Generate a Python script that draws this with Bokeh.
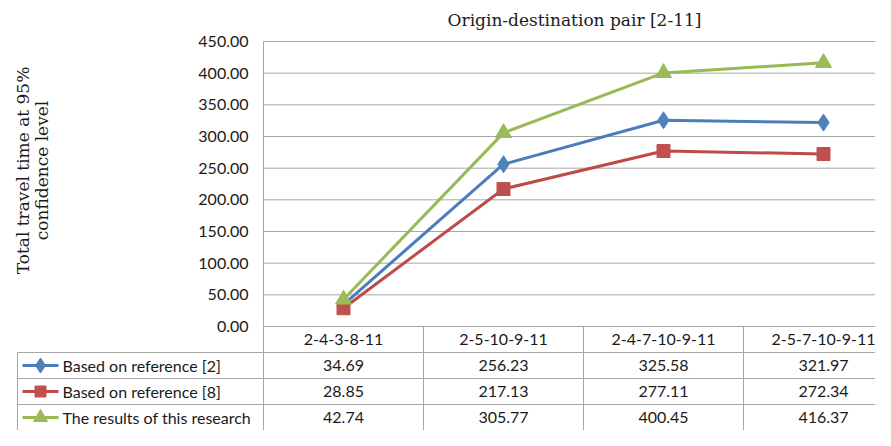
import math
from bokeh.plotting import figure
from bokeh.models import Range1d, Label
from bokeh.core.properties import value
from bokeh.embed import file_html
from bokeh.resources import INLINE

# ---- data ----
categories = ["2-4-3-8-11", "2-5-10-9-11", "2-4-7-10-9-11", "2-5-7-10-9-11"]
series_names = ["Based on reference [2]", "Based on reference [8]", "The results of this research"]
ref2 = [34.69, 256.23, 325.58, 321.97]
ref8 = [28.85, 217.13, 277.11, 272.34]
research = [42.74, 305.77, 400.45, 416.37]
y_ticks = [0, 50, 100, 150, 200, 250, 300, 350, 400, 450]
chart_title = "Origin-destination pair [2-11]"
y_title = ["Total travel time at 95%", "confidence level"]

series = [ref2, ref8, research]
line_colors = ["#4A7EBB", "#BE4B48", "#98B954"]
marker_colors = ["#4F81BD", "#C0504D", "#9BBB59"]
markers = ["diamond", "square", "triangle"]
marker_sizes = [17, 13, 16]

SANS = "Lato"
SERIF = "DejaVu Serif"
GRID = "#a6a6a6"
TXT = "#1a1a1a"

idx = list(range(len(categories)))

# ---- layout (canvas pixels) ----
W, H = 875, 430
COL_W = 160.0          # px per category column
CAT0_PX = 343.0        # canvas x of first category centre
ZERO_PX, TOP_PX = 326.0, 41.0   # canvas y (from top) of value 0 and value 450
ROW_H = 26.0
upp = (y_ticks[-1] - y_ticks[0]) / (ZERO_PX - TOP_PX)   # value units per px

def xd(px):
    return (px - CAT0_PX) / COL_W

def yv(py):
    return (ZERO_PX - py) * upp

p = figure(width=W, height=H, x_range=Range1d(xd(0), xd(W)),
           y_range=Range1d(yv(H), yv(0)), output_backend="svg", toolbar_location=None,
           min_border_left=0, min_border_right=0, min_border_top=0, min_border_bottom=0)
p.extra_y_ranges = {"rows": Range1d(-0.5 + (H - ZERO_PX) / ROW_H, -0.5 - ZERO_PX / ROW_H)}
p.outline_line_color = None
p.axis.visible = False
p.grid.visible = False

n_cols = len(categories)
right_edge = n_cols - 0.5
left_edge = -0.5

# gridlines and y axis line
p.segment(x0=[left_edge] * len(y_ticks), y0=y_ticks, x1=[right_edge] * len(y_ticks), y1=y_ticks,
          line_color=GRID, line_width=1)
p.segment(x0=[left_edge], y0=[y_ticks[0]], x1=[left_edge], y1=[y_ticks[-1]], line_color=GRID, line_width=1)
# y tick labels
p.text(x=[left_edge] * len(y_ticks), y=y_ticks, text=["%.2f" % v for v in y_ticks],
       x_offset=-15, text_align="right", text_baseline="middle",
       text_font=value(SANS), text_font_size="16px", text_color=TXT)

# series
for vals, lc, mc, mk, ms in zip(series, line_colors, marker_colors, markers, marker_sizes):
    p.line(idx, vals, line_color=lc, line_width=3)
    p.scatter(idx, vals, marker=mk, size=ms, fill_color=mc, line_color=mc)

# title and y-axis title
p.add_layout(Label(x=xd(574), y=yv(19), text=chart_title, text_align="center", text_baseline="middle",
                   text_font=SERIF, text_font_size="17px", text_color=TXT))
for txt, px in zip(y_title, [22, 41]):
    p.add_layout(Label(x=xd(px), y=yv(170), text=txt, angle=math.pi / 2,
                       text_align="center", text_baseline="middle",
                       text_font=SERIF, text_font_size="17px", text_color=TXT))

# ---- data table ----
n_rows = len(series)
legend_left = xd(17)
col_edges = [i - 0.5 for i in idx] + [right_edge]
hx0 = [left_edge] + [legend_left] * n_rows
hy = [-0.5] + [r + 0.5 for r in range(n_rows)]
p.segment(x0=hx0, y0=hy, x1=[right_edge] * len(hy), y1=hy, line_color=GRID, line_width=1,
          y_range_name="rows")
vx = col_edges[:-1]
p.segment(x0=vx, y0=[-0.5] * len(vx), x1=vx, y1=[n_rows + 0.5] * len(vx), line_color=GRID,
          line_width=1, y_range_name="rows")
p.segment(x0=[legend_left], y0=[0.5], x1=[legend_left], y1=[n_rows + 0.5], line_color=GRID,
          line_width=1, y_range_name="rows")

p.text(x=idx, y=[0] * n_cols, text=categories, text_align="center", text_baseline="middle",
       text_font=value(SANS), text_font_size="16px", text_color=TXT, y_range_name="rows")
for r, vals in enumerate(series, start=1):
    p.text(x=idx, y=[r] * n_cols, text=["%.2f" % v for v in vals], text_align="center",
           text_baseline="middle", text_font=value(SANS), text_font_size="16px", text_color=TXT,
           y_range_name="rows")

key_x0, key_x1 = xd(22), xd(58)
key_xm = (key_x0 + key_x1) / 2
rows = list(range(1, n_rows + 1))
for r, lc, mc, mk, ms in zip(rows, line_colors, marker_colors, markers, marker_sizes):
    p.line([key_x0, key_x1], [r, r], line_color=lc, line_width=3, y_range_name="rows")
    p.scatter([key_xm], [r], marker=mk, size=ms - 2, fill_color=mc, line_color=mc, y_range_name="rows")
p.text(x=[xd(62)] * n_rows, y=rows, text=series_names, text_align="left", text_baseline="middle",
       text_font=value(SANS), text_font_size="16px", text_color=TXT, y_range_name="rows")

open("out.html", "w").write(file_html(p, INLINE))
